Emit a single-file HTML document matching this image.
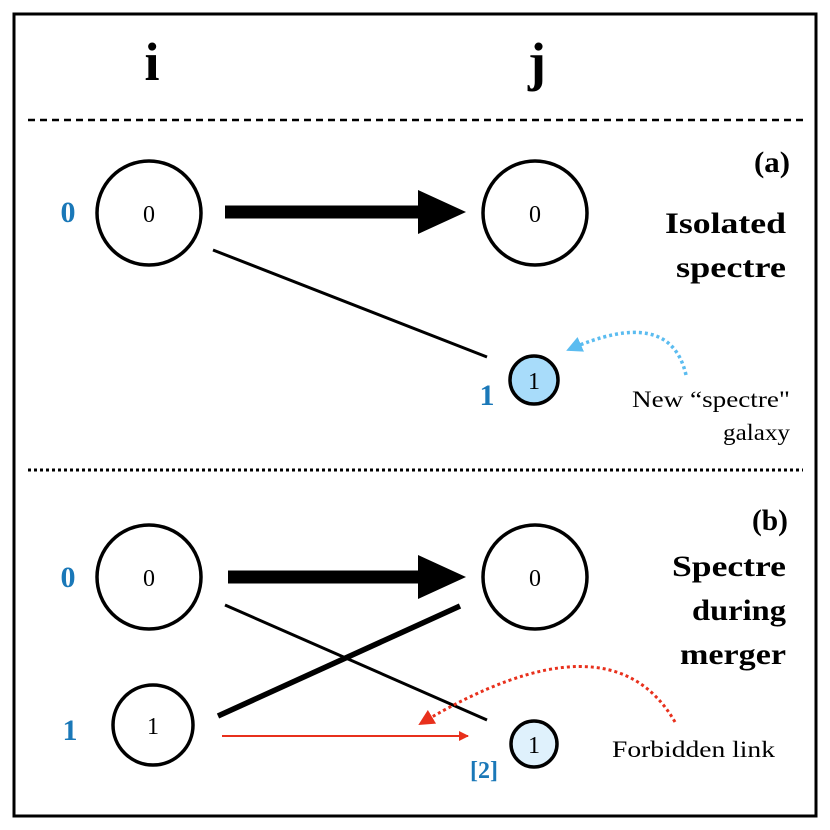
<!DOCTYPE html>
<html><head><style>body{margin:0;background:#fff}svg{display:block}</style></head><body>
<svg width="830" height="830" viewBox="0 0 830 830" xmlns="http://www.w3.org/2000/svg" font-family="'Liberation Serif',serif">
<defs>
<marker id="rh" markerWidth="10" markerHeight="10" refX="9" refY="5" orient="auto" markerUnits="userSpaceOnUse"><path d="M0,0 L10,5 L0,10 z" fill="#e8301c"/></marker>
<marker id="rh2" markerWidth="16" markerHeight="16" refX="14" refY="8" orient="auto" markerUnits="userSpaceOnUse"><path d="M0,0 L16,8 L0,16 z" fill="#e8301c"/></marker>
<marker id="bh" markerWidth="16" markerHeight="16" refX="14" refY="8" orient="auto" markerUnits="userSpaceOnUse"><path d="M0,0 L16,8 L0,16 z" fill="#5bbcf0"/></marker>
</defs>
<rect x="14" y="14" width="802" height="802" fill="#fff" stroke="#000" stroke-width="3"/>
<text x="152" y="80" font-size="54" font-weight="bold" text-anchor="middle">i</text>
<text x="537" y="80" font-size="54" font-weight="bold" text-anchor="middle">j</text>
<line x1="28" y1="120" x2="803" y2="120" stroke="#000" stroke-width="2.5" stroke-dasharray="7,5"/>
<line x1="28" y1="470" x2="803" y2="470" stroke="#000" stroke-width="3" stroke-dasharray="3,3"/>
<g stroke="#000" stroke-width="3.5" fill="#fff">
<circle cx="149" cy="213" r="52"/><circle cx="535" cy="213" r="52"/>
<circle cx="534" cy="380" r="24" fill="#a8dcfa"/>
<circle cx="149" cy="577" r="52"/><circle cx="535" cy="577" r="52"/>
<circle cx="153" cy="725" r="40"/>
<circle cx="534" cy="744" r="23" fill="#dff1fc"/>
</g>
<g font-size="24" text-anchor="middle">
<text x="149" y="222">0</text><text x="535" y="222">0</text><text x="534" y="389">1</text>
<text x="149" y="586">0</text><text x="535" y="586">0</text><text x="153" y="734">1</text><text x="534" y="753">1</text>
</g>
<line x1="225" y1="212" x2="420" y2="212" stroke="#000" stroke-width="13"/>
<path d="M418,190 L466,212 L418,234 z" fill="#000"/>
<line x1="228" y1="577" x2="420" y2="577" stroke="#000" stroke-width="13"/>
<path d="M418,555 L466,577 L418,599 z" fill="#000"/>
<line x1="213" y1="250" x2="487" y2="357" stroke="#000" stroke-width="3"/>
<line x1="225" y1="605" x2="487" y2="720" stroke="#000" stroke-width="3"/>
<line x1="218" y1="716" x2="460" y2="606" stroke="#000" stroke-width="5.5"/>
<line x1="222" y1="736" x2="468" y2="736" stroke="#e8301c" stroke-width="2" marker-end="url(#rh)"/>
<path d="M686,375 Q670,305 568,350" fill="none" stroke="#5bbcf0" stroke-width="3.5" stroke-dasharray="3,3" marker-end="url(#bh)"/>
<path d="M675,722 Q610,610 420,724" fill="none" stroke="#e8301c" stroke-width="3" stroke-dasharray="3,3" marker-end="url(#rh2)"/>
<g fill="#1a78b8" font-weight="bold" font-size="30" text-anchor="middle">
<text x="68" y="222">0</text><text x="487" y="405">1</text>
<text x="68" y="587">0</text><text x="70" y="740">1</text>
<text x="484" y="778" font-size="24">[2]</text>
</g>
<g font-weight="bold" font-size="30" text-anchor="end" lengthAdjust="spacingAndGlyphs">
<text x="790" y="172" textLength="36" lengthAdjust="spacingAndGlyphs">(a)</text><text x="786" y="233" textLength="121" lengthAdjust="spacingAndGlyphs">Isolated</text><text x="786" y="277" textLength="110" lengthAdjust="spacingAndGlyphs">spectre</text>
<text x="788" y="530" textLength="36" lengthAdjust="spacingAndGlyphs">(b)</text><text x="786" y="576" textLength="114" lengthAdjust="spacingAndGlyphs">Spectre</text><text x="786" y="620" textLength="94" lengthAdjust="spacingAndGlyphs">during</text><text x="786" y="664" textLength="106" lengthAdjust="spacingAndGlyphs">merger</text>
</g>
<g font-size="23" text-anchor="end">
<text x="790" y="407" textLength="158" lengthAdjust="spacingAndGlyphs">New “spectre"</text><text x="790" y="440" textLength="67" lengthAdjust="spacingAndGlyphs">galaxy</text>
<text x="775" y="757" textLength="163" lengthAdjust="spacingAndGlyphs">Forbidden link</text>
</g>
</svg>
</body></html>
